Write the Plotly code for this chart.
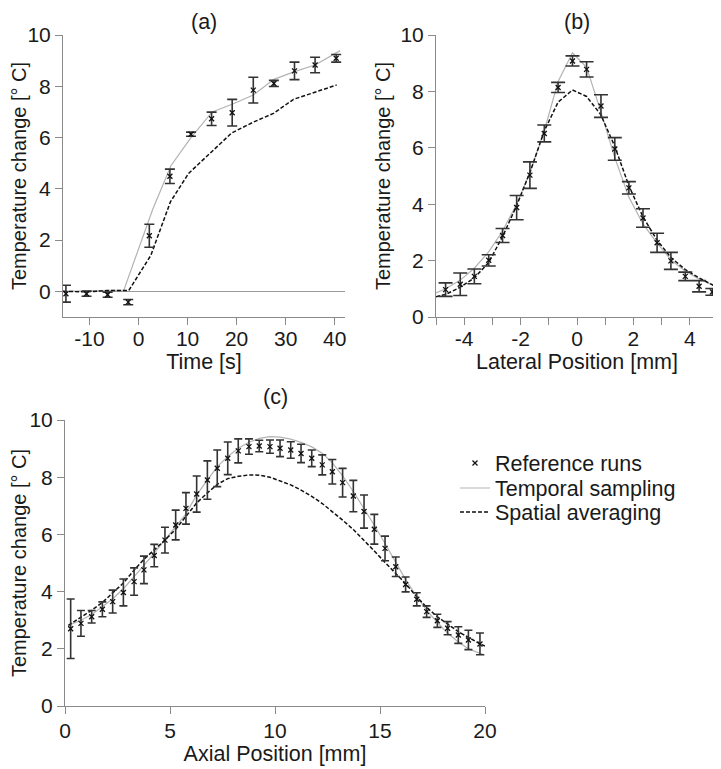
import plotly.graph_objects as go

# ---------------- Panel (a): temperature vs time ----------------
time_ref = [-14.8, -10.6, -6.3, -2.1, 2.2, 6.4, 10.7, 14.9, 19.1, 23.4, 27.6, 31.8, 36.0, 40.3]
temp_ref_a = [-0.09, -0.09, -0.13, -0.42, 2.17, 4.49, 6.13, 6.73, 6.97, 7.85, 8.11, 8.60, 8.83, 9.09]
err_ref_a = [0.33, 0.10, 0.10, 0.10, 0.45, 0.28, 0.08, 0.26, 0.52, 0.50, 0.12, 0.34, 0.30, 0.15]

time_temporal = [-15.4, -10.6, -6.3, -3.0, 2.9, 6.6, 10.5, 15.0, 19.1, 23.4, 27.6, 31.8, 36.0, 41.1]
temp_temporal_a = [0.0, 0.02, 0.05, 0.05, 3.2, 4.9, 5.95, 7.0, 7.3, 7.66, 8.27, 8.57, 8.83, 9.39]

time_spatial = [-15.4, -10.6, -6.3, -2.0, 2.5, 6.5, 10.2, 15.3, 19.0, 23.4, 27.5, 31.6, 36.0, 40.4]
temp_spatial_a = [0.0, -0.02, 0.03, 0.03, 1.4, 3.49, 4.6, 5.5, 6.18, 6.6, 6.94, 7.49, 7.78, 8.05]

time_ticks = [-10, 0, 10, 20, 30, 40]
time_tick_text = ["-10", "0", "10", "20", "30", "40"]

# ---------------- Panel (b): lateral profile ----------------
lat_ref = [-4.66, -4.14, -3.64, -3.13, -2.64, -2.14, -1.67, -1.16, -0.67, -0.16,
           0.34, 0.85, 1.34, 1.84, 2.34, 2.84, 3.33, 3.84, 4.33, 4.80]
temp_ref_b = [0.97, 1.16, 1.44, 2.01, 2.89, 3.88, 5.03, 6.51, 8.14, 9.08,
              8.78, 7.48, 5.96, 4.58, 3.51, 2.63, 1.99, 1.44, 1.09, 0.89]
err_ref_b = [0.24, 0.40, 0.26, 0.20, 0.25, 0.43, 0.47, 0.30, 0.18, 0.18,
             0.27, 0.40, 0.40, 0.22, 0.33, 0.34, 0.30, 0.15, 0.20, 0.12]

lat_model = [-5.0, -4.66, -4.15, -3.65, -3.14, -2.64, -2.14, -1.66, -1.16, -0.67, -0.16,
             0.34, 0.84, 1.34, 1.84, 2.34, 2.84, 3.34, 3.84, 4.34, 4.84, 5.0]
temp_temporal_b = [0.85, 1.0, 1.3, 1.72, 2.3, 3.05, 4.0, 5.15, 6.6, 8.35, 9.37,
                   8.85, 7.3, 5.65, 4.25, 3.3, 2.62, 2.02, 1.62, 1.34, 1.12, 1.08]
temp_spatial_b = [0.72, 0.8, 1.05, 1.38, 1.92, 2.85, 3.95, 5.15, 6.6, 7.62, 8.05,
                  7.82, 7.18, 6.05, 4.65, 3.55, 2.72, 2.1, 1.68, 1.38, 1.12, 1.05]

lat_ticks = [-5, -4, -3, -2, -1, 0, 1, 2, 3, 4, 5]
lat_tick_text = ["", "-4", "", "-2", "", "0", "", "2", "", "4", ""]

# ---------------- Panel (c): axial profile ----------------
ax_ref = [0.27, 0.76, 1.27, 1.78, 2.27, 2.78, 3.29, 3.76, 4.25, 4.76,
          5.27, 5.76, 6.27, 6.78, 7.25, 7.75, 8.25, 8.76, 9.25, 9.76,
          10.24, 10.75, 11.24, 11.75, 12.25, 12.73, 13.22, 13.73, 14.24, 14.73,
          15.24, 15.75, 16.22, 16.75, 17.22, 17.73, 18.22, 18.73, 19.21, 19.76]
temp_ref_c = [2.70, 2.89, 3.12, 3.38, 3.65, 3.97, 4.35, 4.76, 5.26, 5.80,
              6.33, 6.91, 7.41, 7.90, 8.31, 8.66, 8.92, 9.07, 9.09, 9.07,
              9.01, 8.95, 8.83, 8.66, 8.43, 8.19, 7.81, 7.34, 6.80, 6.18,
              5.51, 4.87, 4.25, 3.73, 3.30, 2.98, 2.72, 2.48, 2.31, 2.17]
err_ref_c = [1.04, 0.45, 0.22, 0.26, 0.40, 0.47, 0.48, 0.48, 0.39, 0.45,
             0.52, 0.55, 0.63, 0.67, 0.64, 0.57, 0.42, 0.27, 0.20, 0.23,
             0.29, 0.29, 0.32, 0.29, 0.35, 0.43, 0.50, 0.55, 0.58, 0.52,
             0.43, 0.34, 0.26, 0.23, 0.20, 0.23, 0.23, 0.29, 0.34, 0.38]

ax_model = [0.16] + ax_ref + [20.0]
temp_temporal_c = [2.78, 2.85, 3.0, 3.2, 3.47, 3.75, 4.1, 4.52, 4.92, 5.35, 5.8,
                   6.25, 6.72, 7.38, 7.9, 8.37, 8.72, 9.01, 9.22, 9.36, 9.42,
                   9.4, 9.33, 9.22, 9.06, 8.84, 8.5, 8.05, 7.5, 6.92, 6.32,
                   5.68, 5.05, 4.42, 3.83, 3.35, 2.92, 2.55, 2.24, 2.0, 1.84, 1.78]
temp_spatial_c = [2.82, 2.87, 3.1, 3.35, 3.62, 3.95, 4.3, 4.75, 5.13, 5.46, 5.8,
                  6.18, 6.62, 7.1, 7.45, 7.75, 7.95, 8.03, 8.08, 8.07, 8.0,
                  7.88, 7.73, 7.55, 7.33, 7.08, 6.8, 6.5, 6.17, 5.8, 5.42,
                  5.02, 4.65, 4.28, 3.82, 3.45, 3.12, 2.85, 2.6, 2.4, 2.17, 2.1]

temp_ticks = [0, 2, 4, 6, 8, 10]

# The page body has an 8 px margin, so the figure is shifted by 8 px.
OFF = 8
W, H = 721 - OFF, 769 - OFF
FONT = "Liberation Sans, Arial, sans-serif"
TXT = "#1a1a1a"
AXC = "#8a8a8a"
GRAY_LINE = "#b3b3b3"
DASH_C = "#111111"
ERR_C = "#333333"

def px_x(p):
    return (p - OFF) / W

def px_y(p):
    return 1 - (p - OFF) / H

fig = go.Figure()

def add_panel(xr, yr, ye, cap, xm_t, ym_t, xm_s, ym_s, xa, ya, legend):
    fig.add_trace(go.Scatter(
        x=xm_t, y=ym_t, mode="lines", name="Temporal sampling",
        line=dict(color=GRAY_LINE, width=1.2), xaxis=xa, yaxis=ya,
        showlegend=legend, legend="legend2"))
    fig.add_trace(go.Scatter(
        x=xm_s, y=ym_s, mode="lines", name="Spatial averaging",
        line=dict(color=DASH_C, width=1.5, dash="4px,2px"), xaxis=xa, yaxis=ya,
        showlegend=legend, legend="legend3"))
    fig.add_trace(go.Scatter(
        x=xr, y=yr, mode="markers", name="Reference runs",
        marker=dict(symbol="x-thin", size=5, color="#111", line=dict(width=1.3, color="#111")),
        error_y=dict(type="data", array=ye, visible=True, color=ERR_C, thickness=1.6, width=cap),
        xaxis=xa, yaxis=ya, showlegend=legend, legend="legend"))

add_panel(time_ref, temp_ref_a, err_ref_a, 5, time_temporal, temp_temporal_a,
          time_spatial, temp_spatial_a, "x", "y", False)
add_panel(lat_ref, temp_ref_b, err_ref_b, 7, lat_model, temp_temporal_b,
          lat_model, temp_spatial_b, "x2", "y2", False)
add_panel(ax_ref, temp_ref_c, err_ref_c, 4, ax_model, temp_temporal_c,
          ax_model, temp_spatial_c, "x3", "y3", True)

axis_common = dict(showline=True, linecolor=AXC, linewidth=1, ticks="outside",
                   ticklen=7, tickcolor=AXC, tickwidth=1, showgrid=False,
                   zeroline=False, mirror=False, automargin=False,
                   tickfont=dict(family=FONT, size=21, color=TXT))
xtitle_font = dict(family=FONT, size=21.5, color=TXT)
ytitle_font = dict(family=FONT, size=20, color=TXT)

def leg(ypx):
    return dict(x=px_x(455), y=px_y(ypx), xanchor="left", yanchor="middle",
                font=dict(family=FONT, size=21.5, color=TXT),
                bgcolor="rgba(0,0,0,0)", itemwidth=30)

def panel_title(text, xp, yp):
    return dict(text=text, x=px_x(xp), y=px_y(yp), xref="paper", yref="paper",
                xanchor="center", yanchor="middle", showarrow=False,
                font=dict(family=FONT, size=21.5, color=TXT))

fig.update_layout(
    width=W, height=H,
    margin=dict(l=0, r=0, t=0, b=0, autoexpand=False),
    plot_bgcolor="white", paper_bgcolor="white",
    font=dict(family=FONT, size=21, color=TXT),
    xaxis=dict(axis_common, domain=[px_x(63), px_x(345)], range=[-15.4, 42.1],
               tickvals=time_ticks, ticktext=time_tick_text, anchor="y", ticklabelstandoff=-4,
               title=dict(text="Time [s]", standoff=3, font=xtitle_font)),
    yaxis=dict(axis_common, domain=[px_y(317), px_y(35)], range=[-1, 10],
               tickvals=temp_ticks, anchor="x",
               zeroline=True, zerolinecolor="#9a9a9a", zerolinewidth=1,
               title=dict(text="Temperature change [° C]", standoff=13, font=ytitle_font)),
    xaxis2=dict(axis_common, domain=[px_x(436), px_x(718)], range=[-5, 5],
                tickvals=lat_ticks, ticktext=lat_tick_text,
                anchor="y2", ticklabelstandoff=-4,
                title=dict(text="Lateral Position [mm]", standoff=3, font=xtitle_font)),
    yaxis2=dict(axis_common, domain=[px_y(317), px_y(35)], range=[0, 10],
                tickvals=temp_ticks, anchor="x2",
                title=dict(text="Temperature change [° C]", standoff=4, font=ytitle_font)),
    xaxis3=dict(axis_common, domain=[px_x(65), px_x(485)], range=[0, 20],
                tickvals=[0, 5, 10, 15, 20], anchor="y3", ticklabelstandoff=-1,
                title=dict(text="Axial Position [mm]", standoff=2, font=xtitle_font)),
    yaxis3=dict(axis_common, domain=[px_y(706), px_y(420)], range=[0, 10],
                tickvals=temp_ticks, anchor="x3",
                title=dict(text="Temperature change [° C]", standoff=13, font=ytitle_font)),
    legend=leg(463),
    legend2=leg(488),
    legend3=leg(512),
    annotations=[
        panel_title("(a)", 204, 22),
        panel_title("(b)", 577, 22),
        panel_title("(c)", 275, 397),
    ],
)

fig.write_html("out.html")
